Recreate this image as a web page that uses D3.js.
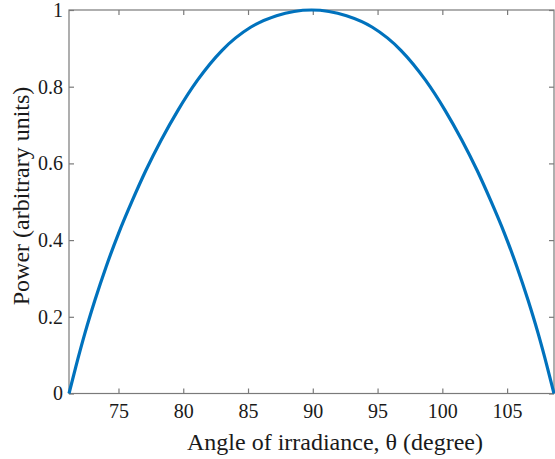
<!DOCTYPE html>
<html>
<head>
<meta charset="utf-8">
<script src="https://cdn.jsdelivr.net/npm/d3@7"></script>
<style>
  body { margin: 0; background: #fff; }
  svg { display: block; }
</style>
</head>
<body>
<svg width="555" height="459"></svg>
<script>
// Углы (градусы)
const angles = [71.18, 71.7, 72.4, 73.18, 74.04, 75.0, 76.08, 77.12, 78.3, 79.6, 81.1, 83.0, 85.2, 87.2, 89.9,
                92.6, 94.6, 96.8, 98.7, 100.2, 101.5, 102.68, 103.72, 104.8, 105.76, 106.62, 107.4, 108.1, 108.62];
// Мощность (отн. ед.)
const power = [0, 0.069, 0.156, 0.243, 0.330, 0.417, 0.504, 0.582, 0.661, 0.739, 0.817, 0.895, 0.955, 0.985, 1.0,
               0.985, 0.955, 0.895, 0.817, 0.739, 0.661, 0.582, 0.504, 0.417, 0.330, 0.243, 0.156, 0.069, 0];
const xTicks = [75, 80, 85, 90, 95, 100, 105];
const yTicks = [0, 0.2, 0.4, 0.6, 0.8, 1];

const fontFam = "Liberation Serif";

const svg = d3.select("svg");

// Область графика
const area = { left: 69, right: 554, top: 10, bottom: 393.5 };

const scX = d3.scaleLinear().domain([71.18, 108.62]).range([area.left, area.right]);
const scY = d3.scaleLinear().domain([0, 1]).range([area.bottom, area.top]);

const axisColor = "#7a7a7a";

// Рамка
svg.append("rect")
    .attr("x", area.left)
    .attr("y", area.top)
    .attr("width", area.right - area.left)
    .attr("height", area.bottom - area.top)
    .attr("fill", "none")
    .attr("stroke", axisColor)
    .attr("stroke-width", 1.2);

// Оси: метки направлены внутрь
const gX = svg.append("g")
    .attr("transform", `translate(0, ${area.bottom})`)
    .call(d3.axisBottom(scX).tickValues(xTicks).tickSize(-5).tickPadding(10).tickFormat(d3.format("d")));
const gXTop = svg.append("g")
    .attr("transform", `translate(0, ${area.top})`)
    .call(d3.axisTop(scX).tickValues(xTicks).tickSize(-5).tickFormat(""));
const gY = svg.append("g")
    .attr("transform", `translate(${area.left}, 0)`)
    .call(d3.axisLeft(scY).tickValues(yTicks).tickSize(-5).tickPadding(6).tickFormat(d => d === 0 || d === 1 ? d3.format("d")(d) : d3.format(".1f")(d)));
const gYRight = svg.append("g")
    .attr("transform", `translate(${area.right}, 0)`)
    .call(d3.axisRight(scY).tickValues(yTicks).tickSize(-5).tickFormat(""));

[gX, gXTop, gY, gYRight].forEach(g => {
    g.select(".domain").remove();
    g.selectAll(".tick line").attr("stroke", axisColor).attr("stroke-width", 1.2);
    g.selectAll("text")
        .attr("font-family", fontFam)
        .attr("font-size", 20)
        .attr("fill", "#1a1a1a");
});

// Кривая
const line = d3.line()
    .x((d, i) => scX(angles[i]))
    .y(d => scY(d))
    .curve(d3.curveMonotoneX);

svg.append("path")
    .datum(power)
    .attr("fill", "none")
    .attr("stroke", "#0072BD")
    .attr("stroke-width", 3.2)
    .attr("d", line);

// Подписи осей
svg.append("text")
    .attr("x", 335)
    .attr("y", 450)
    .attr("text-anchor", "middle")
    .attr("font-family", fontFam)
    .attr("font-size", 24)
    .attr("fill", "#1a1a1a")
    .text("Angle of irradiance, θ (degree)");

svg.append("text")
    .attr("transform", "translate(29, 196) rotate(-90)")
    .attr("text-anchor", "middle")
    .attr("font-family", fontFam)
    .attr("font-size", 24)
    .attr("fill", "#1a1a1a")
    .text("Power (arbitrary units)");
</script>
</body>
</html>
